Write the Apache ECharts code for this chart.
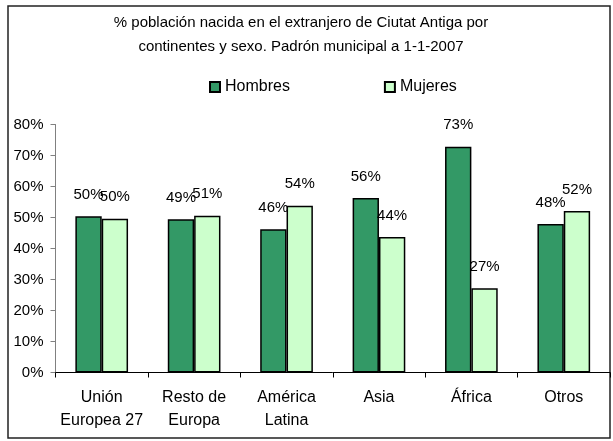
<!DOCTYPE html>
<html>
<head>
<meta charset="utf-8">
<script src="https://cdn.jsdelivr.net/npm/echarts@6/dist/echarts.min.js"></script>
<style>
  html, body { margin: 0; padding: 0; background: #fff; }
  #chart { width: 613px; height: 441px; }
</style>
</head>
<body>
<div id="chart"></div>
<script>
const categories = ['Unión\nEuropea 27', 'Resto de\nEuropa', 'América\nLatina', 'Asia', 'África', 'Otros']
const hombres = [50.4, 49.4, 46.2, 56.3, 72.8, 47.9]
const mujeres = [49.6, 50.6, 53.8, 43.7, 27.2, 52.1]
const yTicks = [0, 10, 20, 30, 40, 50, 60, 70, 80]

const font = 'Liberation Sans, Arial, sans-serif'
const chart = echarts.init(document.getElementById('chart'))

const label = {
  show: true,
  position: 'top',
  distance: 14,
  color: '#000',
  fontFamily: font,
  fontSize: 15,
  formatter: p => Math.round(p.value) + '%'
}

chart.setOption({
  animation: false,
  title: {
    text: '% población nacida en el extranjero de Ciutat Antiga por\ncontinentes y sexo. Padrón municipal a 1-1-2007',
    left: 296,
    top: 6,
    textAlign: 'center',
    textStyle: {
      fontFamily: font,
      fontSize: 15,
      fontWeight: 'normal',
      color: '#000',
      lineHeight: 24
    }
  },
  legend: {
    left: 204,
    top: 74,
    itemGap: 94,
    itemWidth: 10,
    itemHeight: 10,
    icon: 'rect',
    textStyle: { fontFamily: font, fontSize: 16, color: '#000' },
    data: ['Hombres', 'Mujeres']
  },
  graphic: [{
    type: 'rect',
    shape: { x: 8, y: 6, width: 602, height: 432 },
    style: { fill: 'none', stroke: '#222', lineWidth: 1.5 },
    silent: true
  }],
  grid: { left: 55.5, right: 3, top: 124.5, bottom: 68.5 },
  xAxis: {
    type: 'category',
    data: categories,
    axisLine: { lineStyle: { color: '#000', width: 1 } },
    axisTick: { show: true, length: 5, lineStyle: { color: '#000' } },
    axisLabel: {
      interval: 0,
      color: '#000',
      fontFamily: font,
      fontSize: 16,
      lineHeight: 23,
      margin: 14
    }
  },
  yAxis: {
    type: 'value',
    min: 0,
    max: 80,
    interval: 10,
    axisLine: { show: true, lineStyle: { color: '#808080' } },
    axisTick: { show: true, length: 5, lineStyle: { color: '#808080' } },
    splitLine: { show: false },
    axisLabel: {
      color: '#000',
      fontFamily: font,
      fontSize: 15,
      margin: 12,
      formatter: v => yTicks.includes(v) ? v + '%' : ''
    }
  },
  series: [
    {
      name: 'Hombres',
      type: 'bar',
      data: hombres,
      barGap: '0%',
      barCategoryGap: '43%',
      itemStyle: { color: '#339966', borderColor: '#000', borderWidth: 1.5 },
      label
    },
    {
      name: 'Mujeres',
      type: 'bar',
      data: mujeres,
      itemStyle: { color: '#ccffcc', borderColor: '#000', borderWidth: 1.5 },
      label
    }
  ]
})

window.addEventListener('resize', () => {
  chart.resize()
})
</script>
</body>
</html>
